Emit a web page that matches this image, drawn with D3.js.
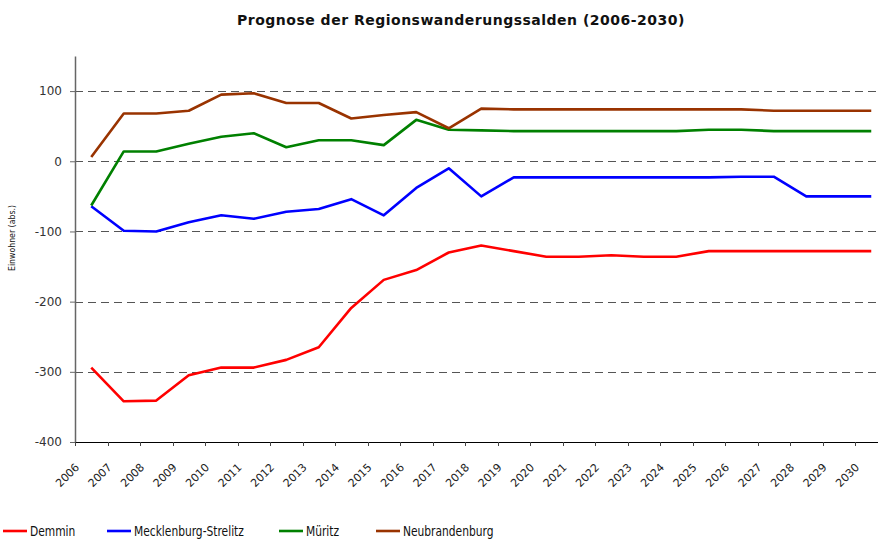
<!DOCTYPE html>
<html>
<head>
<meta charset="utf-8">
<script src="https://cdn.jsdelivr.net/npm/d3@7"></script>
<style>
  body { margin: 0; background: #fff; }
  svg { display: block; }
</style>
</head>
<body>
<div id="chart"></div>
<script>
// Jahre (Kategorien der x-Achse)
const years = ["2006","2007","2008","2009","2010","2011","2012","2013","2014","2015","2016","2017","2018",
  "2019","2020","2021","2022","2023","2024","2025","2026","2027","2028","2029","2030"];

// Wanderungssalden je Region (Einwohner, abs.)
const demmin = [-294,-342,-341,-305,-294,-294,-283,-265,-209,-169,-155,-130,-120,
  -128,-136,-136,-134,-136,-136,-128,-128,-128,-128,-128,-128];
const mecklenburgStrelitz = [-64,-99,-100,-87,-77,-82,-72,-68,-54,-77,-38,-10,-50,
  -23,-23,-23,-23,-23,-23,-23,-22,-22,-50,-50,-50];
const mueritz = [-63,14,14,25,35,40,20,30,30,23,59,45,44,
  43,43,43,43,43,43,45,45,43,43,43,43];
const neubrandenburg = [6,68,68,72,95,97,83,83,61,66,70,47,75,
  74,74,74,74,74,74,74,74,72,72,72,72];

const yTicks = [100, 0, -100, -200, -300, -400];

const series = [
  { name: "Demmin", values: demmin, color: "#ff0000" },
  { name: "Mecklenburg-Strelitz", values: mecklenburgStrelitz, color: "#0000ff" },
  { name: "Müritz", values: mueritz, color: "#008000" },
  { name: "Neubrandenburg", values: neubrandenburg, color: "#993300" }
];

const W = 878, H = 541;
const plot = { left: 75, top: 56, bottom: 442, right: 887.5 };

const svg = d3.select("#chart").append("svg")
  .attr("width", W)
  .attr("height", H);

const x = d3.scaleBand()
  .domain(years)
  .range([plot.left, plot.right]);

const y = d3.scaleLinear()
  .domain([-400, 150])
  .range([plot.bottom, plot.top]);

// Titel
svg.append("text")
  .attr("x", 461)
  .attr("y", 25)
  .attr("text-anchor", "middle")
  .style("font-family", "'DejaVu Sans', Verdana, sans-serif")
  .style("font-size", "14px")
  .style("font-weight", "bold")
  .style("letter-spacing", "0.5px")
  .style("fill", "#111")
  .text("Prognose der Regionswanderungssalden (2006-2030)");

// Gitterlinien (gestrichelt)
svg.append("g").selectAll("line")
  .data(yTicks.filter(d => d !== -400))
  .enter().append("line")
  .attr("x1", plot.left)
  .attr("x2", W)
  .attr("y1", d => Math.round(y(d)) + 0.5)
  .attr("y2", d => Math.round(y(d)) + 0.5)
  .style("stroke", "#555")
  .style("stroke-width", 1)
  .style("stroke-dasharray", "8,5");

// y-Achse
const yAxis = svg.append("g")
  .attr("transform", `translate(${plot.left},0)`)
  .call(d3.axisLeft(y).tickValues(yTicks).tickFormat(d => String(d))
    .tickSize(5).tickPadding(8).tickSizeOuter(0));
yAxis.select(".domain").style("stroke", "#666").style("stroke-width", 1.5);
yAxis.selectAll(".tick line").style("stroke", "#666");
yAxis.selectAll("text")
  .style("font-family", "'DejaVu Sans', Verdana, sans-serif")
  .style("font-size", "12px")
  .style("fill", "#333");

svg.append("text")
  .attr("transform", `translate(15,238) rotate(-90)`)
  .attr("text-anchor", "middle")
  .style("font-family", "'DejaVu Sans Condensed', 'DejaVu Sans', sans-serif")
  .style("font-stretch", "condensed")
  .style("font-size", "8.7px")
  .style("fill", "#111")
  .text("Einwohner (abs.)");

// x-Achse: Striche an den Kategoriegrenzen
const xg = svg.append("g");
xg.append("line")
  .attr("x1", plot.left).attr("x2", W)
  .attr("y1", plot.bottom + 0.5).attr("y2", plot.bottom + 0.5)
  .style("stroke", "#000").style("stroke-width", 1.2);
xg.selectAll(".xtick")
  .data(years)
  .enter().append("line")
  .attr("class", "xtick")
  .attr("x1", d => Math.round(x(d)) + 0.5)
  .attr("x2", d => Math.round(x(d)) + 0.5)
  .attr("y1", plot.bottom)
  .attr("y2", plot.bottom + 4)
  .style("stroke", "#444");
xg.selectAll(".xlabel")
  .data(years)
  .enter().append("text")
  .attr("class", "xlabel")
  .attr("transform", d => `translate(${x(d) + 5},${plot.bottom + 26}) rotate(-45)`)
  .attr("text-anchor", "end")
  .style("font-family", "'DejaVu Sans', Verdana, sans-serif")
  .style("font-size", "11px")
  .style("fill", "#222")
  .text(d => d);

// Linien
const line = d3.line()
  .x((d, i) => x(years[i]) + x.bandwidth() / 2)
  .y(d => y(d));

svg.append("g").selectAll("path")
  .data(series)
  .enter().append("path")
  .attr("d", d => line(d.values))
  .style("fill", "none")
  .style("stroke", d => d.color)
  .style("stroke-width", 2.6)
  .style("stroke-linejoin", "round");

// Legende
const legendX = [3, 107, 279, 376];
const legend = svg.append("g").selectAll("g")
  .data(series)
  .enter().append("g")
  .attr("transform", (d, i) => `translate(${legendX[i]},531)`);
legend.append("line")
  .attr("x1", 0).attr("x2", 24)
  .style("stroke", d => d.color)
  .style("stroke-width", 2.6);
legend.append("text")
  .attr("transform", "translate(27,5) scale(0.88,1)")
  .style("font-family", "'DejaVu Sans Condensed', 'DejaVu Sans', sans-serif")
  .style("font-stretch", "condensed")
  .style("font-size", "13.5px")
  .style("fill", "#111")
  .text(d => d.name);
</script>
</body>
</html>
